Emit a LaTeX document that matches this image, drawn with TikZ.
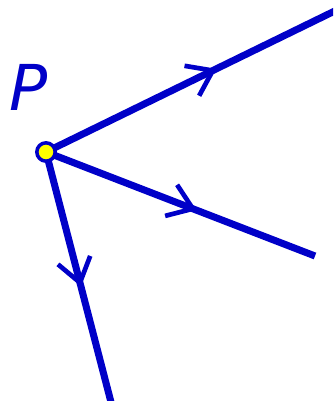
\documentclass[tikz,border=0pt]{standalone}
\usepackage{fontspec}
\usepackage{tikz}
\usetikzlibrary{arrows.meta, decorations.markings}
\newfontfamily\labelfont{DejaVu Sans}
\definecolor{rayblue}{RGB}{0, 0, 200}
\definecolor{dotyellow}{RGB}{255, 255, 0}

\tikzset{
  ray/.style={rayblue, line width=6pt, decoration={markings,
    mark=at position #1 with {\arrow{Straight Barb[length=0.7cm, width=1.0cm, line width=4pt]}}},
    postaction=decorate},
}

\begin{document}
\begin{tikzpicture}[x=0.03cm, y=0.03cm]
\clip (0,0) rectangle (333,401);
\coordinate (P) at (46,249);
\coordinate (A) at (345,395);
\coordinate (B) at (315,145);
\coordinate (C) at (112,-5);
\draw[ray=0.57] (P) -- (A);
\draw[ray=0.56] (P) -- (B);
\draw[ray=0.53] (P) -- (C);
\node[circle, fill=dotyellow, draw=rayblue, line width=3pt, minimum size=0.55cm, inner sep=0pt] (dot) at (P) {};
\node[rayblue, font=\fontsize{54}{56}\selectfont\labelfont\itshape] (lbl) at (29,314) {P};
\end{tikzpicture}
\end{document}
